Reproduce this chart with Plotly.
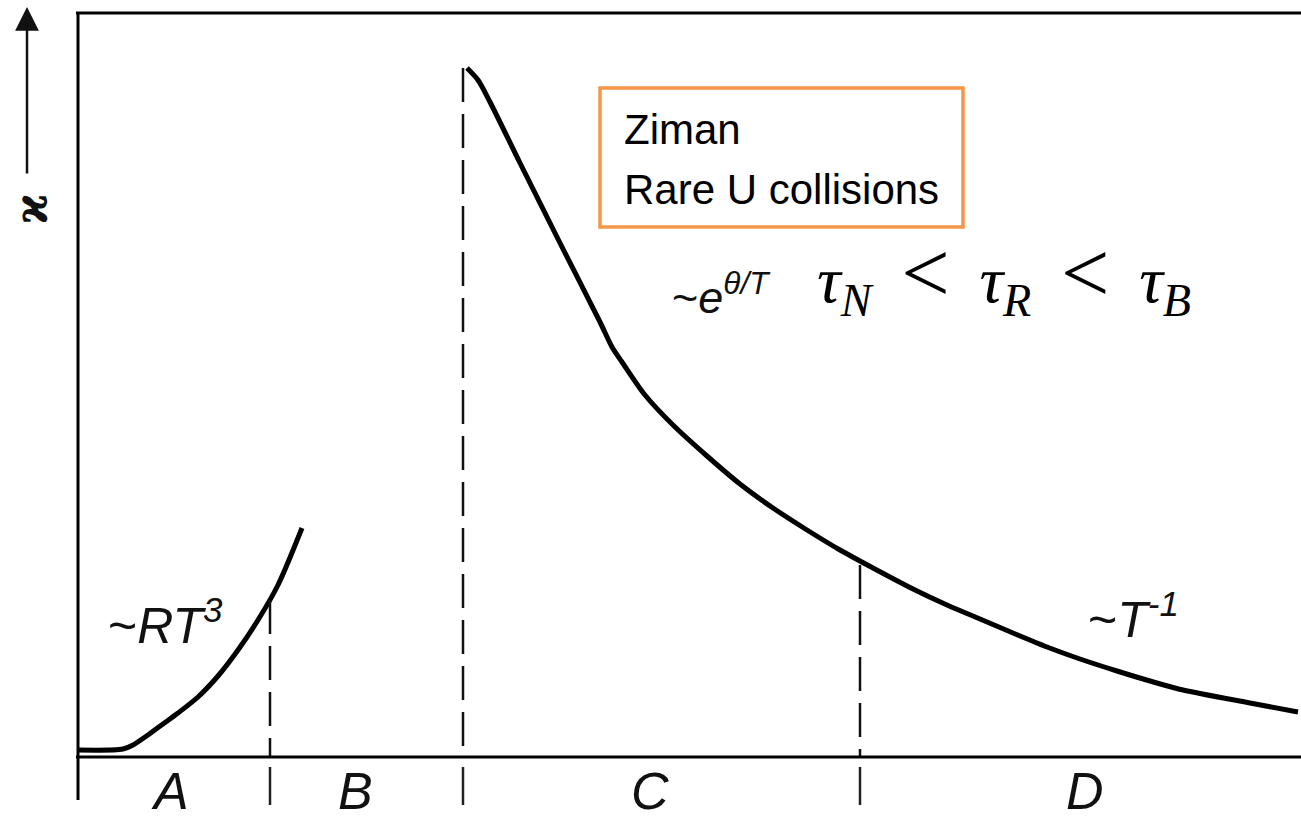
import plotly.graph_objects as go

# Thermal conductivity kappa versus temperature (arbitrary units)
# Low-temperature rise, region A
T_low = [0, 45, 55, 70, 85, 100, 120, 140, 160, 180, 200, 224]
k_low = [7, 8, 12, 22, 33, 44, 60, 81, 107, 137, 172, 229]

# Peak and high-temperature decay, regions C and D
T_high = [389, 400, 412, 442, 482, 522, 534, 544, 567, 595, 629, 662, 695, 729,
          762, 795, 835, 869, 902, 935, 969, 1002, 1039, 1072, 1105, 1172, 1220]
k_high = [689, 677, 655, 594, 514, 435, 410, 395, 362, 332, 301, 273, 249, 227,
          207, 189, 168, 152, 138, 124, 110, 98, 86, 76, 67, 54, 45]

# Region boundaries and the height of each dashed marker
boundary_T = [192, 385, 782]
boundary_top = [157, 689, 192]

# Region names and their centres along T
region_names = ["A", "B", "C", "D"]
region_T = [92, 277, 572, 1007]

# Asymptotic law labels
law_text = ["~<i>RT</i><sup><i>3</i></sup>", "~<i>e</i><sup><i>θ/T</i></sup>", "~<i>T</i><sup><i>-1</i></sup>"]
law_T = [87, 643, 1055]
law_k = [135, 463, 141]
law_size = [50, 45, 50]

X_RANGE = [-78, 1223]
Y_RANGE = [-62, 757]

fig = go.Figure()

line_style = dict(color="#000000", width=5, shape="spline", smoothing=0.8)
fig.add_trace(go.Scatter(x=T_low, y=k_low, mode="lines", line=line_style,
                         hoverinfo="skip", showlegend=False))
fig.add_trace(go.Scatter(x=T_high, y=k_high, mode="lines", line=line_style,
                         hoverinfo="skip", showlegend=False))

# Dashed boundaries above the axis, short solid ticks below it
for t, top in zip(boundary_T, boundary_top):
    fig.add_trace(go.Scatter(x=[t, t], y=[top, 0], mode="lines",
                             line=dict(color="#111111", width=2.5, dash="34px,12px"),
                             hoverinfo="skip", showlegend=False))
    fig.add_trace(go.Scatter(x=[t, t], y=[-10, -48], mode="lines",
                             line=dict(color="#222222", width=2.5),
                             hoverinfo="skip", showlegend=False))

# Frame: top edge, kappa axis, T axis
frame = dict(color="#000000", width=3)
fig.add_shape(type="line", x0=-2, x1=1223, y0=744, y1=744, line=frame)
fig.add_shape(type="line", x0=0, x1=0, y0=744, y1=-43, line=frame)
fig.add_shape(type="line", x0=-2, x1=1223, y0=0, y1=0, line=frame)

# Kappa axis arrow and symbol
fig.add_annotation(x=-51, y=750, ax=-51, ay=582, xref="x", yref="y",
                   axref="x", ayref="y", text="", showarrow=True,
                   arrowhead=2, arrowsize=1.9, arrowwidth=2.5, arrowcolor="#111111")
fig.add_annotation(x=-47, y=548, text="<b>ϰ</b>", textangle=-90, showarrow=False,
                   font=dict(family="DejaVu Serif", size=46, color="#111111"))

for name, t in zip(region_names, region_T):
    fig.add_annotation(x=t, y=-34, text=f"<i>{name}</i>", showarrow=False,
                       font=dict(family="Liberation Sans", size=52, color="#111111"))

for txt, t, k, s in zip(law_text, law_T, law_k, law_size):
    fig.add_annotation(x=t, y=k, text=txt, showarrow=False,
                       font=dict(family="Liberation Sans", size=s, color="#111111"))

# Relaxation time ordering
sep = "&nbsp;&#8201;<span style='font-size:86px'>&lt;</span>&nbsp;&#8201;"
fig.add_annotation(x=926, y=482,
                   text=f"<i>τ</i><sub><i>N</i></sub>{sep}<i>τ</i><sub><i>R</i></sub>{sep}<i>τ</i><sub><i>B</i></sub>",
                   showarrow=False,
                   font=dict(family="Liberation Serif", size=66, color="#000000"))

# Note box
fig.add_shape(type="rect", x0=522, x1=885, y0=669, y1=530,
              line=dict(color="#F79646", width=3.5), fillcolor="rgba(0,0,0,0)")
fig.add_annotation(x=544, y=628, text="Ziman", xanchor="left", showarrow=False,
                   font=dict(family="Liberation Sans", size=42, color="#000000"))
fig.add_annotation(x=544, y=568, text="Rare U collisions", xanchor="left", showarrow=False,
                   font=dict(family="Liberation Sans", size=42, color="#000000"))

fig.update_xaxes(range=X_RANGE, visible=False, fixedrange=True)
fig.update_yaxes(range=Y_RANGE, visible=False, fixedrange=True)
fig.update_layout(width=1301, height=819, autosize=False,
                  margin=dict(l=0, r=0, t=0, b=0, pad=0),
                  paper_bgcolor="white", plot_bgcolor="white")

fig.write_html("out.html")
